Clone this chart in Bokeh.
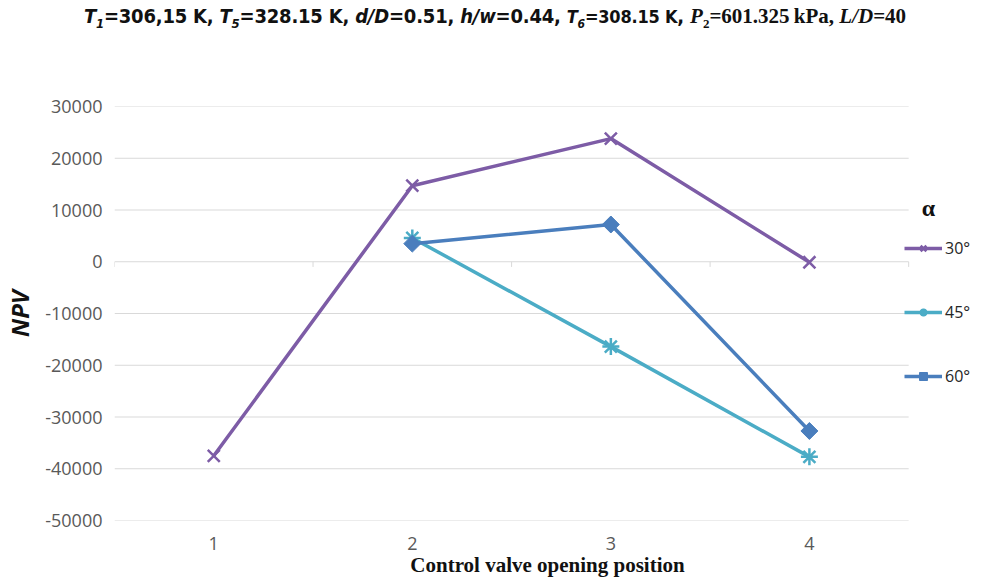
import math
from bokeh.plotting import figure
from bokeh.models import Div, Legend, LegendItem, Label, FixedTicker, Range1d
from bokeh.layouts import column
from bokeh.embed import file_html
from bokeh.resources import INLINE

# ---- data ----
positions = [1, 2, 3, 4]
tick_labels = ["1", "2", "3", "4"]
npv_30 = [-37500, 14700, 23800, -100]
pos_45 = [2, 3, 4]
npv_45 = [4600, -16400, -37700]
pos_60 = [2, 3, 4]
npv_60 = [3500, 7200, -32700]
y_ticks = [-50000, -40000, -30000, -20000, -10000, 0, 10000, 20000, 30000]
series_labels = ["30°", "45°", "60°"]

C30 = "#7D5CA6"
C45 = "#4BACC6"
C60 = "#4A7EBD"
GRID = "#d9d9d9"

x_left = positions[0] - 0.5
x_right = positions[-1] + 0.5
unit_px = 199.0
fig_w = 980
border_left = 112
frame_w = fig_w - border_left
x_end = x_left + frame_w / unit_px

title_html = (
    "<div style=\"width:980px;text-align:center;font-weight:bold;color:#111;"
    "font-family:'Liberation Sans Narrow','DejaVu Sans Condensed','Open Sans',sans-serif;"
    "font-size:20px;line-height:22px;white-space:nowrap;letter-spacing:-0.2px;\">"
    "<i>T</i><sub style='font-size:13px'><i>1</i></sub>=306,15 K, "
    "<i>T</i><sub style='font-size:13px'><i>5</i></sub>=328.15 K, "
    "<i>d/D</i>=0.51, <i>h/w</i>=0.44, "
    "<span style='font-size:18px'><i>T</i><sub style='font-size:12px'><i>6</i></sub>=308.15 K</span>, "
    "<span style=\"font-family:'Liberation Serif',serif;font-size:21px;letter-spacing:0px\">"
    "<i>P</i><sub style='font-size:13px'>2</sub>=601.325&thinsp;kPa, <i>L/D</i>=40</span>"
    "</div>"
)
div = Div(text=title_html, width=fig_w, height=28)

p = figure(width=fig_w, height=541, output_backend="svg",
           toolbar_location=None,
           x_range=Range1d(x_left, x_end), y_range=Range1d(y_ticks[0], y_ticks[-1]),
           min_border_left=border_left, min_border_right=0, min_border_top=68,
           min_border_bottom=59)
p.outline_line_color = None
p.background_fill_color = "white"

p.xgrid.grid_line_color = None
p.ygrid.grid_line_color = None
p.yaxis.ticker = FixedTicker(ticks=y_ticks)
p.xaxis.ticker = FixedTicker(ticks=positions)
p.xaxis.major_label_overrides = {pos: lab for pos, lab in zip(positions, tick_labels)}
p.yaxis.major_label_overrides = {t: str(t) for t in y_ticks}

for ax in (p.xaxis, p.yaxis):
    ax.axis_line_color = None
    ax.major_tick_line_color = None
    ax.minor_tick_line_color = None
    ax.major_tick_out = 0
    ax.major_tick_in = 0
    ax.major_label_text_font = "Open Sans"
    ax.major_label_text_font_size = "18px"
    ax.major_label_text_color = "#595959"

p.yaxis.major_label_standoff = 12
p.xaxis.major_label_standoff = 16
p.yaxis.axis_label = "NPV"
p.yaxis.axis_label_text_font = "Open Sans"
p.yaxis.axis_label_text_font_style = "bold italic"
p.yaxis.axis_label_text_font_size = "24px"
p.yaxis.axis_label_text_color = "#111111"
p.yaxis.axis_label_standoff = 6

p.xaxis.axis_label = "Control valve opening position"
p.xaxis.axis_label_text_font = "Liberation Serif"
p.xaxis.axis_label_text_font_style = "bold"
p.xaxis.axis_label_text_font_size = "21px"
p.xaxis.axis_label_text_color = "#111111"
p.xaxis.axis_label_standoff = 0

# horizontal gridlines spanning only the category area
n = len(y_ticks)
p.segment(x0=[x_left] * n, x1=[x_right] * n, y0=y_ticks, y1=y_ticks,
          line_color=GRID, line_width=1)
# horizontal axis tick marks at category boundaries (on the zero line)
bounds = [x - 0.5 for x in positions] + [x_right]
p.segment(x0=bounds, x1=bounds, y0=[0] * len(bounds), y1=[-1000] * len(bounds),
          line_color=GRID, line_width=1)

# series
l30 = p.line(positions, npv_30, line_color=C30, line_width=3.5)
m30 = p.scatter(positions, npv_30, marker="x", size=17, line_color=C30, line_width=2.5)
l45 = p.line(pos_45, npv_45, line_color=C45, line_width=3.5)
m45 = p.scatter(pos_45, npv_45, marker="asterisk", size=17, line_color=C45, line_width=2.5)
l60 = p.line(pos_60, npv_60, line_color=C60, line_width=3.5)
m60 = p.scatter(pos_60, npv_60, marker="square", angle=math.pi / 4, size=12,
                fill_color=C60, line_color=C60)

legend = Legend(items=[
    LegendItem(label=series_labels[0], renderers=[l30, m30]),
    LegendItem(label=series_labels[1], renderers=[l45, m45]),
    LegendItem(label=series_labels[2], renderers=[l60, m60]),
], location=(790, 133))
legend.padding = 0
legend.margin = 0
legend.border_line_color = None
legend.background_fill_alpha = 0
legend.glyph_width = 38
legend.glyph_height = 20
legend.label_height = 20
legend.spacing = 42
legend.label_standoff = 3
legend.label_text_font = "Open Sans"
legend.label_text_font_size = "16px"
legend.label_text_color = "#262626"
p.add_layout(legend, "center")

alpha_lbl = Label(x=4.6, y=10400, text="α", text_font="Liberation Serif",
                  text_font_style="bold", text_font_size="24px", text_color="#111111",
                  text_align="center", text_baseline="middle")
p.add_layout(alpha_lbl)

layout = column(div, p, spacing=0)
open("out.html", "w").write(file_html(layout, INLINE))
